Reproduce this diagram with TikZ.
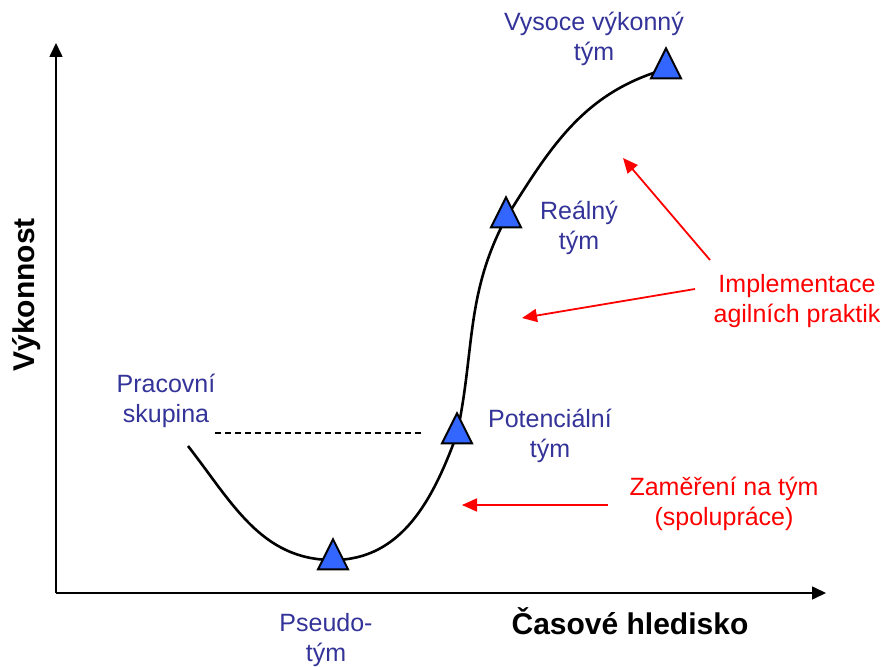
\documentclass[tikz,border=0pt]{standalone}
\usepackage{fontspec}
\setmainfont{Liberation Sans}
\usetikzlibrary{arrows.meta, shapes.geometric}
\definecolor{txtblue}{RGB}{51,51,153}
\definecolor{triblue}{RGB}{51,102,255}

\begin{document}
\begin{tikzpicture}[x=1pt, y=1pt, >=Stealth,
    lbl/.style={text=txtblue, font=\fontsize{25}{30}\selectfont, align=center, inner sep=0pt},
    note/.style={text=red, font=\fontsize{25}{30}\selectfont, align=center, inner sep=0pt},
    axlbl/.style={font=\bfseries\fontsize{30}{35}\selectfont, inner sep=0pt},
    tri/.style={isosceles triangle, shape border rotate=90, isosceles triangle stretches=true,
        minimum width=30pt, minimum height=30pt, inner sep=0pt, draw=black, line width=2pt, fill=triblue},
    axis/.style={-{Triangle[length=14pt,width=13pt]}, line width=1.6pt},
    redarrow/.style={-{Triangle[length=15pt,width=13pt]}, red, line width=1.8pt}]
    \useasboundingbox (0,0) rectangle (887,667);

    % osy
    \coordinate (o) at (56,74);
    \coordinate (ytop) at (56,624);
    \coordinate (xend) at (826,74);
    \draw[axis] (o) -- (ytop);
    \draw[axis] (o) -- (xend);
    \node[axlbl, rotate=90] (ylab) at (27,372) {Výkonnost};
    \node[axlbl] (xlab) at (630,46) {Časové hledisko};

    % krivka
    \coordinate (start) at (188,221);
    \coordinate (c-pseudo) at (333,107);
    \coordinate (c-pot) at (457,233);
    \coordinate (c-real) at (506,449);
    \coordinate (c-top) at (666,598);
    \draw[line width=2.6pt] (start) to[out=-52, in=180] (c-pseudo)
        to[out=0, in=-110] (c-pot)
        to[out=78, in=-118] (c-real)
        to[out=58, in=196] (c-top);

    % carkovana cara
    \coordinate (d1) at (215,234);
    \coordinate (d2) at (421,234);
    \draw[dash pattern=on 6pt off 4pt, line width=1.3pt] (d1) -- (d2);

    % trojuhelniky
    \node[tri] (pseudo) at (c-pseudo) {};
    \node[tri] (pot) at (c-pot) {};
    \node[tri] (real) at (c-real) {};
    \node[tri] (top) at (c-top) {};

    % popisky
    \node[lbl] (pracovni) at (166,266) {Pracovní\\skupina};
    \node[lbl] (pseudolbl) at (326,27) {Pseudo-\\tým};
    \node[lbl] (potlbl) at (550,231) {Potenciální\\tým};
    \node[lbl] (reallbl) at (579,439) {Reálný\\tým};
    \node[lbl] (toplbl) at (594,628) {Vysoce výkonný\\tým};

    \node[note] (impl) at (797,366) {Implementace\\agilních praktik};
    \node[note] (zam) at (724,163) {Zaměření na tým\\(spolupráce)};

    % sipky
    \coordinate (a1) at (710,407);
    \coordinate (b1) at (623,509);
    \coordinate (a2) at (695,378);
    \coordinate (b2) at (522,349);
    \coordinate (a3) at (608,162);
    \coordinate (b3) at (462,162);
    \draw[redarrow] (a1) -- (b1);
    \draw[redarrow] (a2) -- (b2);
    \draw[redarrow] (a3) -- (b3);
\end{tikzpicture}
\end{document}
